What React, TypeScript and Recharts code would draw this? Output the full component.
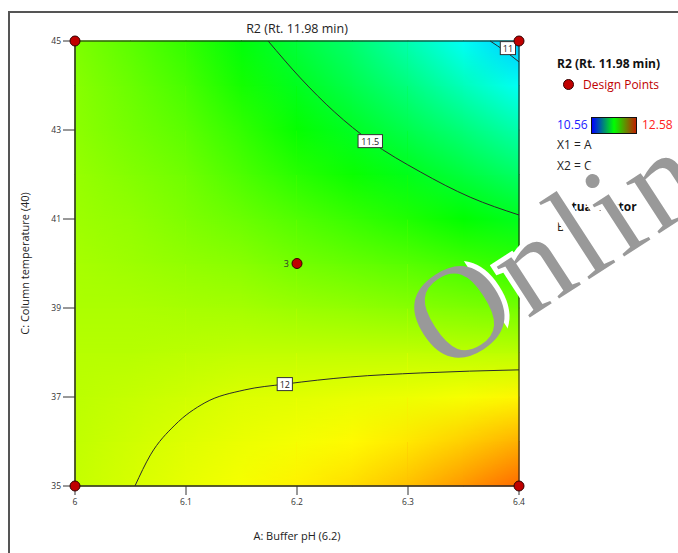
import React from 'react';
import { ComposedChart, XAxis, YAxis, ReferenceArea, ReferenceDot, Line, Scatter } from 'recharts';

// factor levels of the response grid
const phLevels = [6, 6.05, 6.1, 6.15, 6.2, 6.25, 6.3, 6.35, 6.4];
const tempLevels = [35, 36, 37, 38, 39, 40, 41, 42, 43, 44, 45];

// R2 retention time (min), one row per column temperature, columns follow phLevels
const r2Grid = [
  [11.96, 11.995, 12.03, 12.06, 12.1, 12.14, 12.2, 12.28, 12.37],
  [11.95, 11.98, 12.01, 12.035, 12.055, 12.085, 12.12, 12.17, 12.23],
  [11.94, 11.96, 11.98, 12.005, 12.015, 12.03, 12.04, 12.06, 12.09],
  [11.93, 11.93, 11.94, 11.95, 11.95, 11.95, 11.95, 11.945, 11.94],
  [11.91, 11.91, 11.9, 11.895, 11.875, 11.86, 11.84, 11.82, 11.8],
  [11.9, 11.88, 11.86, 11.84, 11.8, 11.77, 11.74, 11.7, 11.66],
  [11.88, 11.86, 11.82, 11.78, 11.73, 11.68, 11.63, 11.57, 11.51],
  [11.87, 11.83, 11.79, 11.72, 11.65, 11.59, 11.52, 11.45, 11.37],
  [11.85, 11.8, 11.75, 11.67, 11.58, 11.5, 11.42, 11.33, 11.23],
  [11.84, 11.78, 11.71, 11.61, 11.51, 11.42, 11.32, 11.2, 11.085],
  [11.82, 11.75, 11.67, 11.55, 11.45, 11.35, 11.22, 11.08, 10.95],
];

const colorRange = [10.56, 12.58];

// contour lines
const contour12 = [
  { ph: 6.054, temp: 35 },
  { ph: 6.068, temp: 35.7 },
  { ph: 6.09, temp: 36.37 },
  { ph: 6.117, temp: 36.87 },
  { ph: 6.153, temp: 37.16 },
  { ph: 6.189, temp: 37.29 },
  { ph: 6.248, temp: 37.45 },
  { ph: 6.311, temp: 37.54 },
  { ph: 6.4, temp: 37.61 },
];
const contour115 = [
  { ph: 6.174, temp: 45 },
  { ph: 6.203, temp: 44.17 },
  { ph: 6.234, temp: 43.4 },
  { ph: 6.266, temp: 42.75 },
  { ph: 6.311, temp: 42.06 },
  { ph: 6.356, temp: 41.49 },
  { ph: 6.4, temp: 41.09 },
];
const contour11 = [
  { ph: 6.374, temp: 45 },
  { ph: 6.387, temp: 44.78 },
  { ph: 6.4, temp: 44.53 },
];
const contourLabels = [
  { ph: 6.189, temp: 37.29, text: '12' },
  { ph: 6.266, temp: 42.75, text: '11.5' },
  { ph: 6.39, temp: 44.84, text: '11' },
];

const designPoints = [
  { ph: 6, temp: 45, runs: 1 },
  { ph: 6.4, temp: 45, runs: 1 },
  { ph: 6, temp: 35, runs: 1 },
  { ph: 6.4, temp: 35, runs: 1 },
  { ph: 6.2, temp: 40, runs: 3 },
];

const xTicks = [6, 6.1, 6.2, 6.3, 6.4];
const yTicks = [35, 37, 39, 41, 43, 45];

const FONT = '"Open Sans", "Noto Sans", sans-serif';

// blue -> cyan -> green -> yellow -> red
const RAMP = [
  [0, 0, 255],
  [0, 255, 255],
  [0, 255, 0],
  [255, 255, 0],
  [255, 0, 0],
];

const colorFor = (v: number) => {
  const [lo, hi] = colorRange;
  const t = Math.max(0, Math.min(1, (v - lo) / (hi - lo))) * (RAMP.length - 1);
  const i = Math.min(RAMP.length - 2, Math.floor(t));
  const f = t - i;
  const a = RAMP[i];
  const b = RAMP[i + 1];
  const c = a.map((x, k) => Math.round(x + (b[k] - x) * f));
  return `rgb(${c[0]},${c[1]},${c[2]})`;
};

type Cell = {
  id: string;
  x1: number;
  x2: number;
  y1: number;
  y2: number;
  loL: string;
  loR: string;
  hiL: string;
  hiR: string;
};

const cells: Cell[] = [];
for (let r = 0; r < tempLevels.length - 1; r++) {
  for (let c = 0; c < phLevels.length - 1; c++) {
    cells.push({
      id: `cell-${r}-${c}`,
      x1: phLevels[c],
      x2: phLevels[c + 1],
      y1: tempLevels[r],
      y2: tempLevels[r + 1],
      loL: colorFor(r2Grid[r][c]),
      loR: colorFor(r2Grid[r][c + 1]),
      hiL: colorFor(r2Grid[r + 1][c]),
      hiR: colorFor(r2Grid[r + 1][c + 1]),
    });
  }
}

// bilinear shading: bottom-edge gradient, with the top-edge gradient faded in over it
const cellShape = (id: string) => (props: any) => {
  const { x, y, width, height } = props;
  return (
    <g>
      <rect x={x - 0.5} y={y - 0.5} width={width + 1} height={height + 1} fill={`url(#${id}-lo)`} />
      <rect x={x - 0.5} y={y - 0.5} width={width + 1} height={height + 1} fill={`url(#${id}-hi)`} mask="url(#fadeMask)" />
    </g>
  );
};

const labelBox = (text: string) => (props: any) => {
  const { cx, cy } = props;
  const w = 6 + text.length * 4.6;
  return (
    <g>
      <rect x={cx - w / 2} y={cy - 6.5} width={w} height={13} fill="#fff" stroke="#333" strokeWidth={1} />
      <text x={cx} y={cy + 3.5} textAnchor="middle" fontSize={9} fill="#222" fontFamily={FONT}>
        {text}
      </text>
    </g>
  );
};

const pointShape = (props: any) => {
  const { cx, cy, payload } = props;
  return (
    <g>
      <circle cx={cx} cy={cy} r={5} fill="#c00000" stroke="#300" strokeWidth={1} />
      {payload.runs > 1 && (
        <text x={cx - 8} y={cy + 3} textAnchor="end" fontSize={9} fill="#333" fontFamily={FONT}>
          {payload.runs}
        </text>
      )}
    </g>
  );
};

const Defs = () => (
  <svg width={0} height={0} style={{ position: 'absolute', left: 0, top: 0 }}>
    <defs>
      <linearGradient id="fadeV" x1="0" y1="0" x2="0" y2="1">
        <stop offset="0" stopColor="#fff" />
        <stop offset="1" stopColor="#000" />
      </linearGradient>
      <mask id="fadeMask" maskContentUnits="objectBoundingBox">
        <rect width="1" height="1" fill="url(#fadeV)" />
      </mask>
      {cells.map((c) => (
        <React.Fragment key={c.id}>
          <linearGradient id={`${c.id}-lo`} x1="0" y1="0" x2="1" y2="0">
            <stop offset="0" stopColor={c.loL} />
            <stop offset="1" stopColor={c.loR} />
          </linearGradient>
          <linearGradient id={`${c.id}-hi`} x1="0" y1="0" x2="1" y2="0">
            <stop offset="0" stopColor={c.hiL} />
            <stop offset="1" stopColor={c.hiR} />
          </linearGradient>
        </React.Fragment>
      ))}
    </defs>
  </svg>
);

const legendText: React.CSSProperties = { position: 'absolute', fontSize: 12, lineHeight: '16px', whiteSpace: 'nowrap' };

export default function App() {
  return (
    <div style={{ position: 'fixed', left: 0, top: 0, width: 678, height: 553, overflow: 'hidden', background: '#fff', fontFamily: FONT }}>
      <Defs />
      <div style={{ position: 'absolute', left: 8, top: 11, width: 800, height: 700, borderLeft: '2px solid #555', borderTop: '2px solid #555' }} />

      <div style={{ position: 'absolute', left: 75, top: 20, width: 444, textAlign: 'center', fontSize: 12.5, lineHeight: '18px', color: '#222' }}>
        R2 (Rt. 11.98 min)
      </div>

      <div style={{ position: 'absolute', left: 0, top: 0 }}>
        <ComposedChart width={678} height={553} margin={{ top: 41, right: 159, bottom: 37, left: 15 }}>
          <XAxis
            type="number"
            dataKey="ph"
            domain={[6, 6.4]}
            ticks={xTicks}
            interval={0}
            height={30}
            tickSize={9}
            tickMargin={4}
            stroke="#333"
            tick={{ fontSize: 8.5, fill: '#333' }}
            label={{ value: 'A: Buffer pH (6.2)', position: 'bottom', offset: 16, fill: '#222', fontSize: 11 }}
          />
          <YAxis
            type="number"
            dataKey="temp"
            domain={[35, 45]}
            ticks={yTicks}
            interval={0}
            width={60}
            tickSize={12}
            tickMargin={2}
            stroke="#333"
            tick={{ fontSize: 8.5, fill: '#333' }}
            label={{ value: 'C: Column temperature (40)', angle: -90, position: 'insideLeft', offset: 10, fill: '#222', fontSize: 11, style: { textAnchor: 'middle' } }}
          />
          {cells.map((c) => (
            <ReferenceArea key={c.id} x1={c.x1} x2={c.x2} y1={c.y1} y2={c.y2} shape={cellShape(c.id)} />
          ))}
          <ReferenceArea x1={6} x2={6.4} y1={35} y2={45} fill="none" fillOpacity={0} stroke="#111" strokeWidth={1} />
          <Line data={contour12} dataKey="temp" type="monotoneX" stroke="#2b2b2b" strokeWidth={1} dot={false} activeDot={false} isAnimationActive={false} />
          <Line data={contour115} dataKey="temp" type="monotoneX" stroke="#2b2b2b" strokeWidth={1} dot={false} activeDot={false} isAnimationActive={false} />
          <Line data={contour11} dataKey="temp" type="monotoneX" stroke="#2b2b2b" strokeWidth={1} dot={false} activeDot={false} isAnimationActive={false} />
          {contourLabels.map((l) => (
            <ReferenceDot key={l.text} x={l.ph} y={l.temp} r={1} shape={labelBox(l.text)} />
          ))}
          <Scatter data={designPoints} dataKey="temp" shape={pointShape} isAnimationActive={false} />
        </ComposedChart>
      </div>

      {/* legend */}
      <div style={{ ...legendText, left: 557, top: 56, fontWeight: 700, color: '#111' }}>R2 (Rt. 11.98 min)</div>
      <div style={{ position: 'absolute', left: 563, top: 79, width: 11, height: 11, borderRadius: '50%', background: '#c00000', border: '1px solid #300', boxSizing: 'border-box' }} />
      <div style={{ ...legendText, left: 583, top: 77, color: '#c00000' }}>Design Points</div>
      <div style={{ ...legendText, left: 557, top: 117, color: '#2020ff' }}>{colorRange[0].toFixed(2)}</div>
      <div style={{ position: 'absolute', left: 591, top: 117, width: 46, height: 17, boxSizing: 'border-box', border: '1px solid #111', background: 'linear-gradient(to right, #0000ff 0%, #00ff00 50%, #c02000 100%)' }} />
      <div style={{ ...legendText, left: 642, top: 117, color: '#ff2020' }}>{colorRange[1].toFixed(2)}</div>
      <div style={{ ...legendText, left: 557, top: 137, color: '#222' }}>X1 = A</div>
      <div style={{ ...legendText, left: 557, top: 158, color: '#222' }}>X2 = C</div>
      <div style={{ ...legendText, left: 557, top: 199, fontWeight: 700, color: '#111' }}>Actual Factor</div>
      <div style={{ ...legendText, left: 557, top: 219, color: '#222' }}>B =</div>

      {/* watermark */}
      <svg width={678} height={553} style={{ position: 'absolute', left: 0, top: 0, pointerEvents: 'none' }}>
        <defs>
          <clipPath id="sideClip">
            <rect x={522} y={190} width={160} height={400} />
          </clipPath>
        </defs>
        <g transform="rotate(-33 443 374)">
          <text x={443} y={374} fontSize={132} letterSpacing={5} fontFamily='"Liberation Serif", serif' fill="#fff" stroke="#fff" strokeWidth={10} clipPath="url(#sideClip)">
            Online
          </text>
          <text x={443} y={374} fontSize={132} letterSpacing={5} fontFamily='"Liberation Serif", serif' fill="#999">
            Online
          </text>
        </g>
      </svg>
    </div>
  );
}
